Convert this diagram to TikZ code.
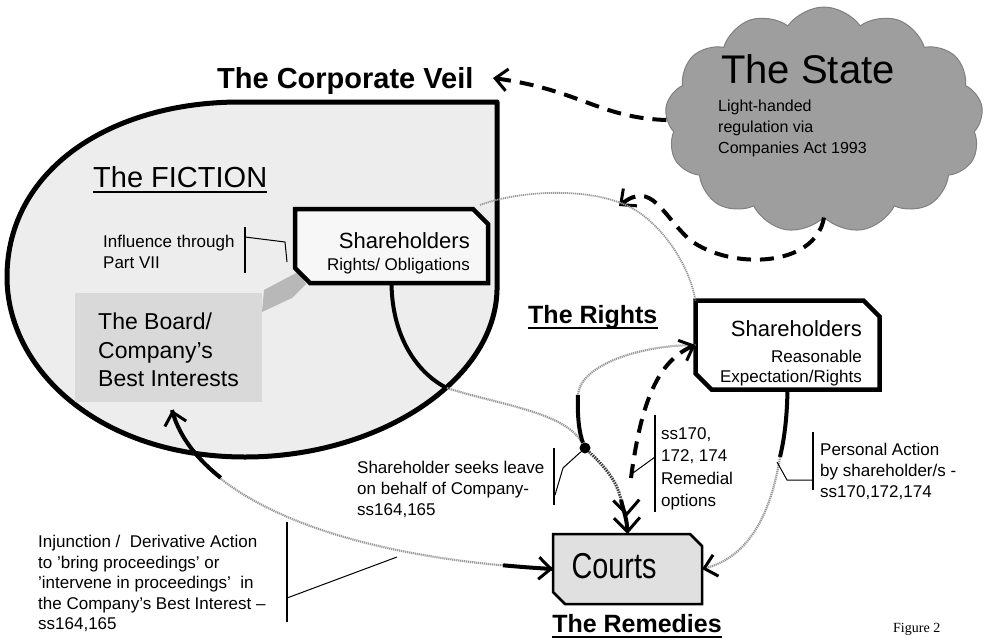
\documentclass[tikz,border=0pt]{standalone}
\usepackage{fontspec}
\setmainfont{Liberation Sans}
\newfontfamily\serifont{Liberation Serif}
\newfontfamily\narrowsans[FakeStretch=0.8]{Liberation Sans}
\usetikzlibrary{shapes.symbols,arrows.meta,calc}
\tikzset{
  boxanchor/.style={rectangle, draw=none, inner sep=0pt, outer sep=0pt},
  lbl/.style={inner sep=0pt, align=left, anchor=north west, font=\fontsize{17}{21}\selectfont},
  bracket/.style={line width=1.6pt},
  leader/.style={line width=1pt},
  bigdash/.style={line width=4pt, dash pattern=on 14pt off 9pt},
  barb/.style={-{Straight Barb[length=12pt,width=22pt,line width=3pt,color=black]}},
  grayline/.style={draw=black!40, line width=2.2pt, dash pattern=on 1.2pt off 0.8pt},
  darkdots/.style={draw=black!75, line width=3pt, dash pattern=on 1.5pt off 1pt},
  title/.style={inner sep=0pt, font=\bfseries\fontsize{25}{28}\selectfont},
}
\newcommand\chambox[3][]{\draw[#1] (#2.north west) -- ([xshift=-#3]#2.north east) -- ([yshift=-#3]#2.north east) -- (#2.south east) -- ([xshift=#3]#2.south west) -- ([yshift=#3]#2.south west) -- cycle;}
\begin{document}
\begin{tikzpicture}[x=1pt,y=-1pt]
\path[use as bounding box, fill=white] (0,0) rectangle (986,640);

% ---- corporate veil shape
\draw[line width=5pt, fill=black!7, line join=round] (497,102) -- (497,290) .. controls (495,380) and (380,457) .. (245,457) .. controls (100,457) and (7,370) .. (7,277) .. controls (7,170) and (110,102) .. (240,102) -- cycle;

% board region
\node[fill=black!15, minimum width=187pt, minimum height=109pt, inner sep=0pt] (board) at (168.5,347.5) {};
\node[inner sep=0pt, anchor=north west, align=left, font=\fontsize{23}{28.5}\selectfont] (boardt) at (98,313) {The Board/\\Company's\\Best Interests};
\fill[black!28] (298,272) -- (264,290) -- (262,312) -- (292,298) -- (306,284) -- cycle;

% titles
\node[title, font=\bfseries\fontsize{29}{31}\selectfont, anchor=base west] (veilt) at (217,88) {The Corporate Veil};
\node[inner sep=0pt, anchor=base west, font=\fontsize{29}{32}\selectfont] (fiction) at (93,187) {The FICTION};
\draw[line width=2pt] ([yshift=-5pt]fiction.base west) -- ([yshift=-5pt]fiction.base east);
\node[title, anchor=base west] (rights) at (528,323) {The Rights};
\draw[line width=2.5pt] ([yshift=-5pt]rights.base west) -- ([yshift=-5pt]rights.base east);
\node[title, anchor=base] (remedies) at (637,632) {The Remedies};
\draw[line width=2.5pt] ([yshift=-5pt]remedies.base west) -- ([yshift=-5pt]remedies.base east);
\node[inner sep=0pt, anchor=base west, font=\serifont\fontsize{14}{16}\selectfont] (fig) at (893,632) {Figure 2};

% ---- the state cloud
\node[cloud, cloud puffs=13, cloud puff arc=110, aspect=1.45, minimum width=318pt, minimum height=226pt, fill=black!38, draw=black!50, line width=1pt, inner sep=0pt] (state) at (824,120) {};
\node[inner sep=0pt, anchor=base, font=\fontsize{40}{44}\selectfont] (statet) at (808,83) {The State};
\node[lbl, font=\fontsize{16}{21}\selectfont] (statesub) at (718,100) {Light-handed\\regulation via\\Companies Act 1993};

% ---- boxes
\node[boxanchor, minimum width=193pt, minimum height=74pt] (sh1) at (391.5,246) {};
\chambox[line width=4.5pt, fill=black!3]{sh1}{15pt}
\node[inner sep=0pt, anchor=base east, font=\fontsize{22}{26}\selectfont] (sh1a) at (470,248) {Shareholders};
\node[inner sep=0pt, anchor=base east, font=\fontsize{17}{20}\selectfont] (sh1b) at (470,270) {Rights/ Obligations};

\node[boxanchor, minimum width=184pt, minimum height=89pt] (sh2) at (787.5,345) {};
\chambox[line width=4.5pt, fill=white]{sh2}{16pt}
\node[inner sep=0pt, anchor=base east, font=\fontsize{22}{26}\selectfont] (sh2a) at (862,336) {Shareholders};
\node[inner sep=0pt, anchor=base east, font=\fontsize{17}{20}\selectfont] (sh2b) at (862,362) {Reasonable};
\node[inner sep=0pt, anchor=base east, font=\fontsize{17}{20}\selectfont] (sh2c) at (862,382) {Expectation/Rights};

\node[boxanchor, minimum width=149pt, minimum height=70pt] (courts) at (627.5,569) {};
\chambox[line width=2.5pt, fill=black!12]{courts}{12pt}
\node[inner sep=0pt, anchor=base, font=\narrowsans\fontsize{36}{40}\selectfont] (courtst) at (614,578) {Courts};

\node[circle, fill=black, inner sep=0pt, minimum size=11pt] (dot) at (585,448) {};

% ---- coordinates
\coordinate (vtip) at (493,78);
\coordinate (ctip) at (619,206);
\coordinate (veilx) at (447,388);
\coordinate (s2x) at (578,395);
\coordinate (c1) at (621,500);
\coordinate (dstart) at (631,478);
\coordinate (s2y) at (780,457);
\coordinate (btip) at (172,410);
\coordinate (s1ne) at (480,205);

% ---- connectors
\draw[bigdash, barb] (state.west) .. controls (600,118) and (580,90) .. (vtip);
\draw[bigdash, barb] (state.south) .. controls (815,268) and (730,270) .. (690,240) .. controls (662,215) and (652,180) .. (ctip);

\draw[grayline, line width=1.8pt] (s1ne) .. controls (520,190) and (600,185) .. (640,213) .. controls (670,235) and (690,270) .. (sh2.north west);

\draw[line width=4pt] (sh1.south) .. controls (392,340) and (420,375) .. (veilx);
\draw[grayline] (veilx) .. controls (500,405) and (565,412) .. (dot);
\draw[grayline] (sh2.west) .. controls (640,345) and (580,365) .. (s2x);
\draw[line width=4pt] (s2x) .. controls (577,420) and (580,435) .. (dot);
\draw[darkdots] (dot) .. controls (603,465) and (617,480) .. (c1);
\draw[line width=4pt, -{Straight Barb[length=14pt,width=26pt,line width=3pt] Straight Barb[length=14pt,width=26pt,line width=3pt]}] (c1) .. controls (624,512) and (627,520) .. (courts.north);
\draw[bigdash, barb] (dstart) .. controls (640,410) and (655,362) .. (sh2.west);
\draw[line width=4pt] (sh2.south) .. controls (787,420) and (784,440) .. (s2y);
\draw[grayline, barb] (s2y) .. controls (770,520) and (745,558) .. (courts.east);
\draw[grayline, {Straight Barb[length=12pt,width=22pt,line width=3pt,color=black]}-{Straight Barb[length=12pt,width=22pt,line width=3pt,color=black]}] (btip) .. controls (190,480) and (300,555) .. (courts.west);
\draw[line width=4pt, dash pattern=on 85pt off 2000pt] (btip) .. controls (190,480) and (300,555) .. (courts.west);
\draw[line width=4pt, dash pattern=on 50pt off 2000pt] (courts.west) .. controls (300,555) and (190,480) .. (btip);

% ---- labels with brackets
\node[lbl] (infl) at (103,235) {Influence through\\Part VII};
\draw[bracket] (245,227) -- (245,273);
\draw[leader] (245,237) -- (285,242) -- (287,262);

\node[lbl] (seek) at (357,461) {Shareholder seeks leave\\on behalf of Company-\\ss164,165};
\draw[bracket] (554,448) -- (554,505);
\draw[leader] (dot) -- (563,468) -- (555,495);

\node[lbl, font=\fontsize{17}{22.5}\selectfont] (ss) at (661,427) {ss170,\\172, 174\\Remedial\\options};
\draw[bracket] (655,415) -- (655,512);
\draw[leader] (655,457) -- (633,473);

\node[lbl] (pers) at (820,443) {Personal Action\\by shareholder/s -\\ss170,172,174};
\draw[bracket] (813,432) -- (813,490);
\draw[leader] (777,462) -- (787,480) -- (813,480);

\node[lbl, font=\fontsize{17}{20.5}\selectfont] (inj) at (38,535) {Injunction /\ \ Derivative Action\\to 'bring proceedings' or\\'intervene in proceedings'\ \ in\\the Company's Best Interest --\\ss164,165};
\draw[bracket] (287,522) -- (287,622);
\draw[leader] (287,598) -- (397,557);
\end{tikzpicture}
\end{document}
